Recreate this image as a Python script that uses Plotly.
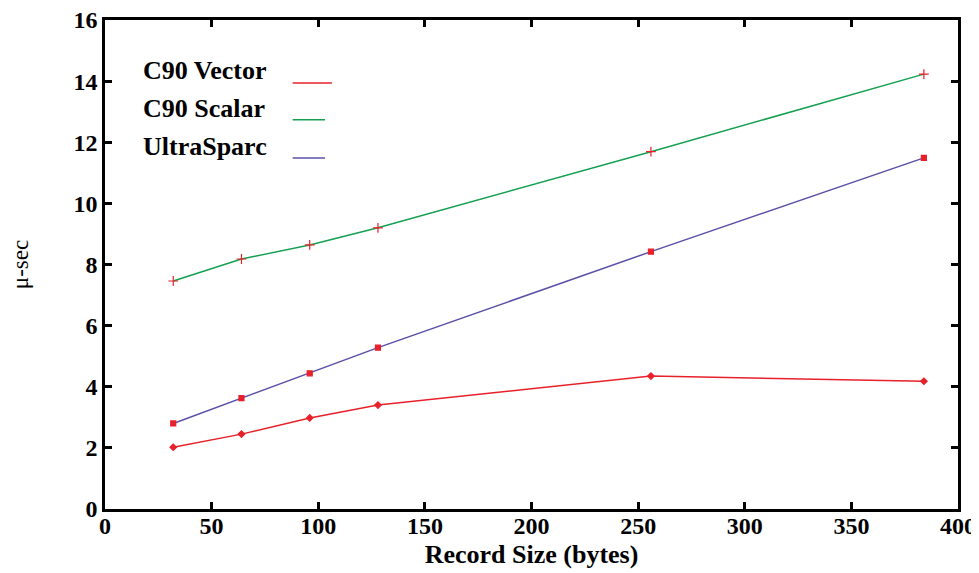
import plotly.graph_objects as go

record_size = [32, 64, 96, 128, 256, 384]
c90_vector = [2.02, 2.45, 2.98, 3.40, 4.35, 4.18]
c90_scalar = [7.46, 8.18, 8.64, 9.20, 11.69, 14.23]
ultrasparc = [2.80, 3.63, 4.44, 5.28, 8.42, 11.49]

series_names = ["C90 Vector", "C90 Scalar", "UltraSparc"]
line_colors = ["#e8202a", "#14a050", "#5a50a8"]
marker_symbols = ["diamond", "cross-thin", "square"]
marker_color = "#e8202a"

x_ticks = [0, 50, 100, 150, 200, 250, 300, 350, 400]
y_ticks = [0, 2, 4, 6, 8, 10, 12, 14, 16]

fig = go.Figure()
for name, vals, col, sym in zip(series_names, [c90_vector, c90_scalar, ultrasparc], line_colors, marker_symbols):
    fig.add_trace(go.Scatter(
        x=record_size, y=vals, name=name, mode="lines+markers",
        line=dict(color=col, width=1.5),
        marker=dict(symbol=sym, size={"diamond": 5, "cross-thin": 7, "square": 5}[sym], color=marker_color,
                    line=dict(color=marker_color, width=1.2)),
        showlegend=False,
    ))

font_serif = "Liberation Serif, Times New Roman, serif"

# legend-like entries (text with line sample at the right)
text_y = [0.896, 0.820, 0.742]
line_y = [0.871, 0.796, 0.718]
line_end = [0.266, 0.258, 0.258]
for name, col, ty, ly, le in zip(series_names, line_colors, text_y, line_y, line_end):
    fig.add_annotation(x=0.0445, y=ty, xref="paper", yref="paper", text="<b>%s</b>" % name,
                       showarrow=False, xanchor="left", yanchor="middle", xshift=-2,
                       font=dict(family=font_serif, size=26, color="black"))
    fig.add_shape(type="line", xref="paper", yref="paper", x0=0.220, x1=le, y0=ly, y1=ly,
                  line=dict(color=col, width=1.5))

axis_common = dict(showline=True, linecolor="black", linewidth=2.5, mirror="ticks",
                   ticks="inside", ticklen=7, tickwidth=2.5, tickcolor="black",
                   showgrid=False, zeroline=False, automargin=False,
                   ticklabeloverflow="allow",
                   tickfont=dict(family=font_serif, size=24, color="black"))

fig.update_layout(
    width=979, height=573,
    margin=dict(l=97, r=29, t=12, b=72),
    paper_bgcolor="white", plot_bgcolor="white",
    xaxis=dict(range=[0, 400], tickvals=x_ticks, ticktext=["<b>%d</b>" % v for v in x_ticks],
               ticklabelstandoff=-7,
               title=dict(text="<b>Record Size (bytes)</b>", standoff=8,
                          font=dict(family=font_serif, size=26, color="black")),
               **axis_common),
    yaxis=dict(range=[0, 16], tickvals=y_ticks, ticktext=["<b>%d</b>" % v for v in y_ticks],
               title=dict(text="μ-sec", standoff=40,
                          font=dict(family=font_serif, size=23, color="black")),
               **axis_common),
)

fig.write_html("out.html")
